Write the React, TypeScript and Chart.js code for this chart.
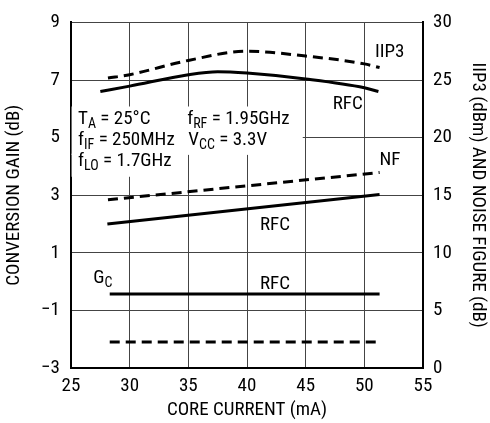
import React, { useEffect, useRef } from "react";
import { Chart, registerables } from "chart.js";

Chart.register(...registerables);

const FONT = "'Roboto Condensed', 'DejaVu Sans Condensed', sans-serif";

const xTicks = [25, 30, 35, 40, 45, 50, 55];
const leftTicks = [-3, -1, 1, 3, 5, 7, 9];
const rightTicks = [0, 5, 10, 15, 20, 25, 30];

const iip3DashX = [28.15, 30, 35, 40, 45, 50, 51.3];
const iip3DashY = [25.17, 25.46, 26.7, 27.5, 27.08, 26.4, 26.08];
const iip3RfcX = [27.5, 30, 35, 37.5, 40, 45, 50, 51.2];
const iip3RfcY = [24.0, 24.47, 25.46, 25.72, 25.6, 25.09, 24.33, 24.0];
const nfDashX = [28.15, 51.3];
const nfDashY = [14.6, 16.97];
const nfRfcX = [28.1, 51.3];
const nfRfcY = [12.5, 15.06];
const gcRfcX = [28.3, 51.3];
const gcRfcY = [-0.43, -0.43];
const gcDashX = [28.3, 51.3];
const gcDashY = [-2.1, -2.1];

const pts = (xs: number[], ys: number[]) => xs.map((x, i) => ({ x, y: ys[i] }));

type Seg = { t: string; sub?: boolean };
type Note = { segs: Seg[]; x: number; y: number; axis: "yL" | "yR" };

// annotation anchors in data coordinates (x, y on given axis)
const notes: Note[] = [
  { segs: [{ t: "IIP3" }], x: 50.9, y: 27.0, axis: "yR" },
  { segs: [{ t: "RFC" }], x: 47.3, y: 22.5, axis: "yR" },
  { segs: [{ t: "T" }, { t: "A", sub: true }, { t: " = 25°C" }], x: 25.6, y: 21.2, axis: "yR" },
  { segs: [{ t: "f" }, { t: "RF", sub: true }, { t: " = 1.95GHz" }], x: 34.9, y: 21.2, axis: "yR" },
  { segs: [{ t: "f" }, { t: "IF", sub: true }, { t: " = 250MHz" }], x: 25.6, y: 19.4, axis: "yR" },
  { segs: [{ t: "V" }, { t: "CC", sub: true }, { t: " = 3.3V" }], x: 35.0, y: 19.4, axis: "yR" },
  { segs: [{ t: "f" }, { t: "LO", sub: true }, { t: " = 1.7GHz" }], x: 25.6, y: 17.5, axis: "yR" },
  { segs: [{ t: "NF" }], x: 51.3, y: 17.65, axis: "yR" },
  { segs: [{ t: "RFC" }], x: 41.1, y: 12.0, axis: "yR" },
  { segs: [{ t: "G" }, { t: "C", sub: true }], x: 26.9, y: 7.4, axis: "yR" },
  { segs: [{ t: "RFC" }], x: 41.1, y: 6.9, axis: "yR" },
];

// white background boxes behind the condition text (data coords on x and right axis)
const boxes = [
  { x0: 25.05, x1: 44.75, y0: 22.7, y1: 18.5 },
  { x0: 25.05, x1: 34.3, y0: 18.6, y1: 16.6 },
];

const notesPlugin = {
  id: "notes",
  beforeDatasetsDraw(chart: any) {
    const { ctx, scales } = chart;
    const xs = scales.x, yr = scales.yR;
    ctx.save();
    ctx.fillStyle = "#ffffff";
    for (const b of boxes) {
      const l = xs.getPixelForValue(b.x0), r = xs.getPixelForValue(b.x1);
      const t = yr.getPixelForValue(b.y0), bt = yr.getPixelForValue(b.y1);
      ctx.fillRect(l, t, r - l, bt - t);
    }
    ctx.restore();
  },
  afterDatasetsDraw(chart: any) {
    const { ctx, scales } = chart;
    ctx.save();
    ctx.fillStyle = "#000";
    ctx.textBaseline = "alphabetic";
    ctx.textAlign = "left";
    for (const n of notes) {
      let px = scales.x.getPixelForValue(n.x);
      const py = scales[n.axis].getPixelForValue(n.y);
      for (const s of n.segs) {
        ctx.font = s.sub ? `14px ${FONT}` : `19px ${FONT}`;
        ctx.fillText(s.t, px, s.sub ? py + 4 : py);
        px += ctx.measureText(s.t).width;
      }
    }
    ctx.restore();
  },
};

export default function App() {
  const ref = useRef<HTMLCanvasElement | null>(null);
  useEffect(() => {
    if (!ref.current) return;
    const tickFont = { family: FONT, size: 19 };
    const minus = (v: any) => String(v).replace("-", "\u2212");
    const chart = new Chart(ref.current, {
      type: "line",
      data: {
        datasets: [
          { data: pts(iip3DashX, iip3DashY), yAxisID: "yR", borderColor: "#000", borderWidth: 3, borderDash: [10, 6], pointRadius: 0, tension: 0.4, cubicInterpolationMode: "monotone" },
          { data: pts(iip3RfcX, iip3RfcY), yAxisID: "yR", borderColor: "#000", borderWidth: 3, pointRadius: 0, tension: 0.4, cubicInterpolationMode: "monotone" },
          { data: pts(nfDashX, nfDashY), yAxisID: "yR", borderColor: "#000", borderWidth: 3, borderDash: [10, 6], pointRadius: 0 },
          { data: pts(nfRfcX, nfRfcY), yAxisID: "yR", borderColor: "#000", borderWidth: 3, pointRadius: 0 },
          { data: pts(gcRfcX, gcRfcY), yAxisID: "yL", borderColor: "#000", borderWidth: 3, pointRadius: 0 },
          { data: pts(gcDashX, gcDashY), yAxisID: "yL", borderColor: "#000", borderWidth: 3, borderDash: [10, 6], pointRadius: 0 },
        ],
      },
      options: {
        animation: false,
        responsive: false,
        maintainAspectRatio: false,
        layout: { padding: { top: 15, left: 0, right: 0, bottom: 0 } },
        plugins: { legend: { display: false }, tooltip: { enabled: false } },
        scales: {
          x: {
            type: "linear",
            min: 25,
            max: 55,
            afterBuildTicks: (s: any) => { s.ticks = xTicks.map((v) => ({ value: v })); },
            afterFit: (s: any) => { s.height = 55; },
            ticks: { font: tickFont, color: "#000", padding: 7, maxRotation: 0 },
            grid: { color: "#444", lineWidth: 1, drawTicks: false },
            border: { color: "#000", width: 2 },
            title: { display: true, text: "CORE CURRENT (mA)", font: tickFont, color: "#000", padding: { top: 0, bottom: 1 } },
          },
          yL: {
            type: "linear",
            position: "left",
            min: -3,
            max: 9,
            afterBuildTicks: (s: any) => { s.ticks = leftTicks.map((v) => ({ value: v })); },
            afterFit: (s: any) => { s.width = 71; },
            ticks: { font: tickFont, color: "#000", padding: 11, callback: minus },
            grid: { color: "#444", lineWidth: 1, drawTicks: false },
            border: { color: "#000", width: 2 },
            title: { display: true, text: "CONVERSION GAIN (dB)", font: tickFont, color: "#000", padding: { top: 3, bottom: 0 } },
          },
          yR: {
            type: "linear",
            position: "right",
            min: 0,
            max: 30,
            afterBuildTicks: (s: any) => { s.ticks = rightTicks.map((v) => ({ value: v })); },
            afterFit: (s: any) => { s.width = 67; },
            ticks: { font: tickFont, color: "#000", padding: 10 },
            grid: { display: false, drawTicks: false },
            border: { color: "#000", width: 2 },
            title: { display: true, text: "IIP3 (dBm) AND NOISE FIGURE (dB)", font: tickFont, color: "#000", padding: { top: 1, bottom: 0 } },
          },
        },
      },
      plugins: [notesPlugin],
    } as any);
    return () => chart.destroy();
  }, []);
  return (
    <div style={{ position: "fixed", left: 0, top: 0, width: 490, height: 423, background: "#fff" }}>
      <canvas ref={ref} width={490} height={423} style={{ width: 490, height: 423, display: "block" }} />
    </div>
  );
}
